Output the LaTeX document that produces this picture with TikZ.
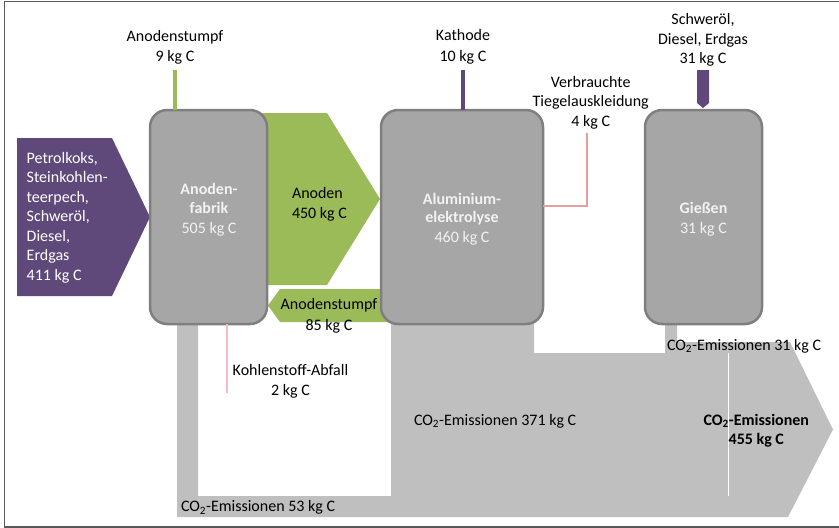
\documentclass[tikz,border=0pt]{standalone}
\usepackage{fontspec}
\setmainfont{Carlito}
\usetikzlibrary{calc}
\definecolor{cpurple}{HTML}{5F497A}
\definecolor{cgreen}{HTML}{9BBB59}
\definecolor{cbox}{HTML}{A6A6A6}
\definecolor{cboxline}{HTML}{7F7F7F}
\definecolor{cband}{HTML}{BFBFBF}
\definecolor{cpink}{HTML}{E39E9E}
\definecolor{cpinklight}{HTML}{F2BCC4}
\definecolor{clight}{HTML}{F2F2F2}
\definecolor{cframe}{HTML}{595959}
\begin{document}
\begin{tikzpicture}[x=1pt,y=-1pt,
  every node/.style={font=\fontsize{16}{19.5}\selectfont, inner sep=0pt, outer sep=0pt},
  procbox/.style={draw=cboxline, fill=cbox, line width=2.5pt, rounded corners=17pt, minimum height=214pt},
  lbl/.style={anchor=base},
  lbll/.style={anchor=base west},
  boxtxt/.style={anchor=base, text=clight},
  purtxt/.style={anchor=base west, text=white}]
\useasboundingbox (0,0) rectangle (839,528);
% frame
\draw[cframe, line width=1.3pt] (839,1.5) -- (4.5,1.5) -- (4.5,527) -- (839,527);
% CO2 band
\fill[cband] (177,318) -- (177,517) -- (788,517) -- (833,429.5) -- (790,342) -- (677,342) -- (677,318) -- (665,318) -- (665,353) -- (534,353) -- (534,318) -- (391,318) -- (391,496) -- (198,496) -- (198,318) -- cycle;
\draw[white, line width=0.8pt] (728,353) -- (728,496);
% green flows
\fill[cgreen] (255,113) -- (327,113) -- (380,199) -- (327,285) -- (255,285) -- cycle;
\fill[cgreen] (420,289) -- (280,289) -- (268,305.5) -- (280,322) -- (420,322) -- cycle;
% purple input
\fill[cpurple] (17,138) -- (112,138) -- (150,217) -- (112,296) -- (17,296) -- cycle;
% process boxes
\node[procbox, minimum width=117pt] (fab) at (208.5,217) {};
\node[procbox, minimum width=162pt] (ely) at (462,217) {};
\node[procbox, minimum width=117pt] (gie) at (703.5,217) {};
% stubs
\coordinate (s9) at (175,70);
\draw[cgreen, line width=3.5pt] (s9) -- (s9 |- fab.north);
\coordinate (s10) at (463,70);
\draw[cpurple, line width=3.8pt] (s10) -- (s10 |- ely.north);
\fill[cpurple] (697,70) -- (709,70) -- (709,103) -- (703,108) -- (697,103) -- cycle;
% pink lines
\coordinate (t4) at (587,133);
\draw[cpink, line width=2pt] (t4) |- ([yshift=11pt]ely.east);
\coordinate (k2) at (227,393);
\draw[cpinklight, line width=1.5pt] (fab.south -| k2) -- (k2);
% texts
\node[lbl] (a1) at (175,41) {Anodenstumpf};
\node[lbl] (a2) at (175,61) {9 kg C};
\node[purtxt] (p1) at (26.7,163.3) {Petrolkoks,};
\node[purtxt] (p2) at (26.7,182.7) {Steinkohlen-};
\node[purtxt] (p3) at (26.7,202) {teerpech,};
\node[purtxt] (p4) at (26.7,221.7) {Schweröl,};
\node[purtxt] (p5) at (26.7,241) {Diesel,};
\node[purtxt] (p6) at (26.7,260.7) {Erdgas};
\node[purtxt] (p7) at (26.7,280) {411 kg C};
\node[boxtxt, font=\fontsize{16}{19.5}\selectfont\bfseries] (f1) at (209,194.3) {Anoden-};
\node[boxtxt, font=\fontsize{16}{19.5}\selectfont\bfseries] (f2) at (209,213.3) {fabrik};
\node[boxtxt] (f3) at (209,233.3) {505 kg C};
\node[lbll] (g1) at (292,198.3) {Anoden};
\node[lbll] (g2) at (292,218.3) {450 kg C};
\node[lbl] (k1) at (463,40.7) {Kathode};
\node[lbl] (k3) at (463,61.7) {10 kg C};
\node[lbl] (v1) at (590.7,87.3) {Verbrauchte};
\node[lbl] (v2) at (590.7,106.7) {Tiegelauskleidung};
\node[lbl] (v3) at (590.7,126) {4 kg C};
\node[lbl] (h1) at (703,24) {Schweröl,};
\node[lbl] (h2) at (703,44) {Diesel, Erdgas};
\node[lbl] (h3) at (703,63.3) {31 kg C};
\node[boxtxt, font=\fontsize{16}{19.5}\selectfont\bfseries] (e1) at (462,204) {Aluminium-};
\node[boxtxt, font=\fontsize{16}{19.5}\selectfont\bfseries] (e2) at (462,222.7) {elektrolyse};
\node[boxtxt] (e3) at (462,242.7) {460 kg C};
\node[boxtxt, font=\fontsize{16}{19.5}\selectfont\bfseries] (i1) at (703.5,213.3) {Gießen};
\node[boxtxt] (i2) at (703.5,233.3) {31 kg C};
\node[lbl] (r1) at (329,309.3) {Anodenstumpf};
\node[lbl] (r2) at (329,330) {85 kg C};
\node[lbl] (w1) at (290.5,375) {Kohlenstoff-Abfall};
\node[lbl] (w2) at (290.5,395) {2 kg C};
\node[lbll] (c53) at (181,511.7) {CO\textsubscript{2}-Emissionen 53 kg C};
\node[lbll] (c371) at (414,425) {CO\textsubscript{2}-Emissionen 371 kg C};
\node[lbll] (c31) at (667,350) {CO\textsubscript{2}-Emissionen 31 kg C};
\node[lbl, font=\fontsize{16}{19.5}\selectfont\bfseries] (t1) at (756.3,425) {CO\textsubscript{2}-Emissionen};
\node[lbl, font=\fontsize{16}{19.5}\selectfont\bfseries] (t2) at (756.3,444) {455 kg C};
\end{tikzpicture}
\end{document}
